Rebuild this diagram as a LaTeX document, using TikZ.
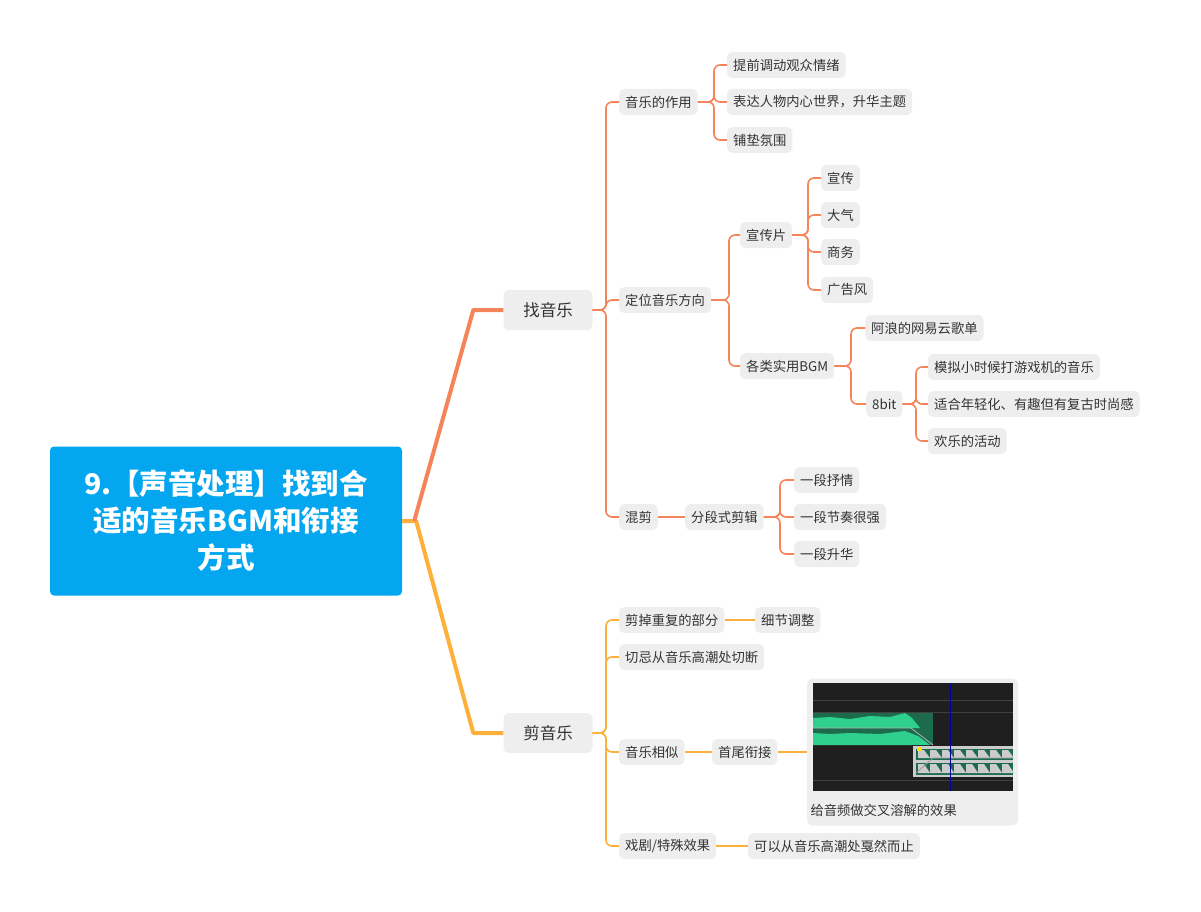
\documentclass[tikz,border=0pt]{standalone}
\usepackage{fontspec}
\setmainfont{Noto Sans CJK SC}
\usetikzlibrary{calc}
\definecolor{boxgray}{HTML}{EEEEEE}
\definecolor{textc}{HTML}{333333}
\definecolor{coral}{HTML}{F5845A}
\definecolor{gold}{HTML}{FDB03C}
\definecolor{rootblue}{HTML}{05A6F0}
\definecolor{dgreen}{HTML}{1B6B4C}
\definecolor{bgreen}{HTML}{2FD08E}
\begin{document}
\begin{tikzpicture}[x=1pt,y=-1pt,
 box/.style={fill=boxgray, rounded corners=5pt, inner xsep=6pt, inner ysep=0pt, minimum height=26pt, font=\fontsize{13.3}{15}\selectfont, text=textc},
 bigbox/.style={box, minimum height=40pt, minimum width=89pt, font=\fontsize{16.5}{18}\selectfont},
 lc/.style={draw=coral, line width=1.6pt, rounded corners=6pt},
 lg/.style={draw=gold, line width=1.6pt, rounded corners=6pt}]
\useasboundingbox (0,0) rectangle (1201,912);
\coordinate (tF) at (606,0);
\coordinate (tZ) at (714,0);
\coordinate (tD) at (729,0);
\coordinate (tX) at (808,0);
\coordinate (tB) at (851,0);
\coordinate (tE) at (916,0);
\coordinate (tS) at (780,0);
% root
\node[fill=rootblue, rounded corners=4pt, minimum width=352pt, minimum height=149pt, text=white, align=center, font=\fontsize{28.5}{37}\selectfont\bfseries] (root) at (226,521) {9.【声音处理】找到合\\适的音乐BGM和衔接\\方式};
\node[bigbox] (find) at (548,310) {找音乐};
\node[bigbox] (cut) at (548,733) {剪音乐};
\draw[gold, line width=4pt, line join=round] (root.east) -- ++(14,0) -- ($(cut.west)+(-30,0)$) -- (cut.west);
\draw[coral, line width=4pt, line join=round] ($(root.east)+(12,0)$) -- ($(find.west)+(-30,0)$) -- (find.west);

% find branch
\node[box,anchor=west] (zy) at (619,102) {音乐的作用};
\node[box,anchor=west] (dw) at (619,300) {定位音乐方向};
\node[box,anchor=west] (hj) at (619,517) {混剪};
\foreach \c in {zy,dw,hj} \draw[lc] (find.east) -- (find.east -| tF) |- (\c.west);

\node[box,anchor=west] (a1) at (727,65) {提前调动观众情绪};
\node[box,anchor=west] (a2) at (727,102) {表达人物内心世界，升华主题};
\node[box,anchor=west] (a3) at (727,140) {铺垫氛围};
\foreach \c in {a1,a2,a3} \draw[lc] (zy.east) -- (zy.east -| tZ) |- (\c.west);

\node[box,anchor=west] (xc) at (740,235) {宣传片};
\node[box,anchor=west] (bgm) at (740,366) {各类实用BGM};
\foreach \c in {xc,bgm} \draw[lc] (dw.east) -- (dw.east -| tD) |- (\c.west);

\node[box,anchor=west] (b1) at (821,178) {宣传};
\node[box,anchor=west] (b2) at (821,215) {大气};
\node[box,anchor=west] (b3) at (821,252) {商务};
\node[box,anchor=west] (b4) at (821,290) {广告风};
\foreach \c in {b1,b2,b3,b4} \draw[lc] (xc.east) -- (xc.east -| tX) |- (\c.west);

\node[box,anchor=west] (wy) at (865,328) {阿浪的网易云歌单};
\node[box,anchor=west] (bit) at (866,404) {8bit};
\foreach \c in {wy,bit} \draw[lc] (bgm.east) -- (bgm.east -| tB) |- (\c.west);

\node[box,anchor=west] (c1) at (928,367) {模拟小时候打游戏机的音乐};
\node[box,anchor=west] (c2) at (928,404) {适合年轻化、有趣但有复古时尚感};
\node[box,anchor=west] (c3) at (928,441) {欢乐的活动};
\foreach \c in {c1,c2,c3} \draw[lc] (bit.east) -- (bit.east -| tE) |- (\c.west);

\node[box,anchor=west] (fd) at (685,517) {分段式剪辑};
\draw[lc] (hj.east) -- (fd.west);
\node[box,anchor=west] (d1) at (794,480) {一段抒情};
\node[box,anchor=west] (d2) at (794,517) {一段节奏很强};
\node[box,anchor=west] (d3) at (794,554) {一段升华};
\foreach \c in {d1,d2,d3} \draw[lc] (fd.east) -- (fd.east -| tS) |- (\c.west);

% cut branch
\node[box,anchor=west] (e1) at (619,620) {剪掉重复的部分};
\node[box,anchor=west] (e2) at (619,657) {切忌从音乐高潮处切断};
\node[box,anchor=west] (e3) at (619,752) {音乐相似};
\node[box,anchor=west] (e4) at (619,846) {戏剧/特殊效果};
\foreach \c in {e1,e2,e3,e4} \draw[lg] (cut.east) -- (cut.east -| tF) |- (\c.west);

\node[box,anchor=west] (f1) at (755,620) {细节调整};
\draw[lg] (e1.east) -- (f1.west);
\node[box,anchor=west] (sw) at (712,752) {首尾衔接};
\draw[lg] (e3.east) -- (sw.west);
\node[box,anchor=west] (f4) at (748,846) {可以从音乐高潮处戛然而止};
\draw[lg] (e4.east) -- (f4.west);

\node[fill=boxgray, rounded corners=6pt, minimum width=211pt, minimum height=147pt] (img) at (912.5,752) {};
\draw[lg] (sw.east) -- (img.west);
% image content
\fill[black!88] (813,683) rectangle (1013,791);
\draw[black!75, line width=0.5pt] (813,700) -- (1013,700) (813,712) -- (1013,712) (813,780) -- (1013,780);
\fill[dgreen] (813,713) rectangle (933,745);
\fill[bgreen] (813,718) -- (830,717) -- (850,719) -- (870,716) -- (890,717) -- (905,713) -- (912,718) -- (920,728) -- (813,728) -- cycle;
\fill[bgreen] (813,733) -- (813,745) -- (930,745) -- (918,736) -- (905,731) -- (880,734) -- (850,733) -- (830,734) -- cycle;
\draw[white!70!black, line width=0.8pt] (813,728) -- (911,728) -- (933,745);
\fill[white!80!black] (913,746) rectangle (1013,777);
\fill[dgreen] (916,749) rectangle (1013,760);
\fill[dgreen] (916,763) rectangle (1013,775);
\foreach \i in {0,1,2,3,4,5,6,7} {\fill[white!80!black] ({918+\i*12},750) -- ++(6,0) -- ++(6,8) -- ++(-12,0) -- cycle;
 \fill[white!80!black] ({918+\i*12},764) -- ++(6,0) -- ++(6,9) -- ++(-12,0) -- cycle;}
\fill[yellow!80!orange] (917,747) rectangle (922,751);
\draw[white!60!black, line width=0.8pt] (916,773) -- (933,758) -- (1013,758);
\draw[blue!60!black, line width=0.8pt] (950,683) -- (950,791);
\node[font=\fontsize{13.3}{15}\selectfont, text=textc, anchor=west] (cap) at (807,810) {给音频做交叉溶解的效果};
\end{tikzpicture}
\end{document}
